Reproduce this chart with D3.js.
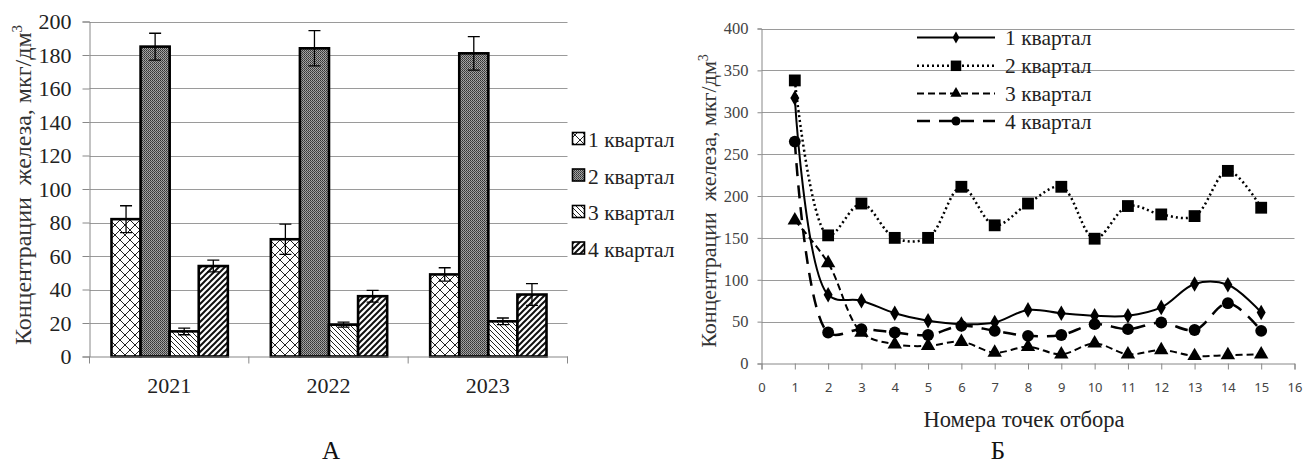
<!DOCTYPE html>
<html><head><meta charset="utf-8">
<script src="https://cdn.jsdelivr.net/npm/d3@7"></script>
<style>body{margin:0;background:#fff}svg{display:block}</style>
</head><body>
<svg id="c" width="1305" height="466"></svg>
<script>
// ---------- Data: chart A ----------
const years = ["2021", "2022", "2023"];
const quarters = ["1 квартал", "2 квартал", "3 квартал", "4 квартал"];
const q1Values = [82, 70, 49];
const q2Values = [185, 184, 181];
const q3Values = [15, 19, 21];
const q4Values = [54, 36, 37];
const q1Errors = [8, 9, 4];
const q2Errors = [8, 10.5, 10];
const q3Errors = [2, 1.5, 2];
const q4Errors = [3.5, 3.5, 6.5];
const yTicksA = [0, 20, 40, 60, 80, 100, 120, 140, 160, 180, 200];

// ---------- Data: chart Б ----------
const points = [1,2,3,4,5,6,7,8,9,10,11,12,13,14,15];
const s1 = [317, 82, 75, 60, 51, 47, 49, 64, 60, 57, 57, 67, 95, 94, 61];
const s2 = [338, 153, 191, 150, 150, 211, 165, 191, 211, 149, 188, 178, 176, 230, 186];
const s3 = [171, 120, 37, 23, 21, 26, 13, 20, 11, 24, 11, 16, 9, 10, 11];
const s4 = [265, 37, 41, 37, 34, 45, 39, 33, 34, 47, 41, 49, 40, 72, 39];
const xTicksB = d3.range(0, 17);
const yTicksB = [0, 50, 100, 150, 200, 250, 300, 350, 400];

const svg = d3.select("#c");
const serif = "Liberation Serif, DejaVu Serif, serif";
const sans = "Noto Sans, Liberation Sans, sans-serif";

// ---------- Patterns ----------
const defs = svg.append("defs");
function pat(id, size, draw) {
  const p = defs.append("pattern").attr("id", id).attr("patternUnits", "userSpaceOnUse")
    .attr("width", size).attr("height", size);
  p.append("rect").attr("width", size).attr("height", size).attr("fill", "#fff");
  draw(p);
}
pat("pCross", 10, p => {
  p.append("path").attr("d", "M0,0L10,10M10,0L0,10M-1,9L1,11M9,-1L11,1M9,11L11,9M-1,1L1,-1")
    .attr("stroke", "#222").attr("stroke-width", 1).attr("fill", "none");
});
pat("pDots", 2, p => {
  p.append("rect").attr("width", 1).attr("height", 1).attr("fill", "#333");
  p.append("rect").attr("x", 1).attr("y", 1).attr("width", 1).attr("height", 1).attr("fill", "#4a4a4a");
  p.append("rect").attr("x", 1).attr("y", 0).attr("width", 1).attr("height", 1).attr("fill", "#aaa");
  p.append("rect").attr("x", 0).attr("y", 1).attr("width", 1).attr("height", 1).attr("fill", "#999");
});
pat("pBack", 5, p => {
  p.append("path").attr("d", "M0,0L5,5M-1,4L1,6M4,-1L6,1")
    .attr("stroke", "#222").attr("stroke-width", 1).attr("fill", "none");
});
pat("pFwd", 6, p => {
  p.append("path").attr("d", "M0,6L6,0M-1,1L1,-1M5,7L7,5")
    .attr("stroke", "#111").attr("stroke-width", 2).attr("fill", "none");
});
const fills = ["url(#pCross)", "url(#pDots)", "url(#pBack)", "url(#pFwd)"];

// ---------- Chart A ----------
const seriesA = [q1Values, q2Values, q3Values, q4Values];
const errA = [q1Errors, q2Errors, q3Errors, q4Errors];
const xA0 = d3.scaleBand().domain(years).range([89.5, 567.5]).padding(0);
const xA1 = d3.scaleBand().domain(quarters).range([22, xA0.bandwidth() - 21]).padding(0);
const yA = d3.scaleLinear().domain([0, 200]).range([356.5, 21.5]);

const gA = svg.append("g");
gA.selectAll("line.grid").data(yTicksA.filter(d => d > 0)).join("line")
  .attr("x1", 89.5).attr("x2", 567.5)
  .attr("y1", d => Math.round(yA(d)) + 0.5).attr("y2", d => Math.round(yA(d)) + 0.5)
  .attr("stroke", "#9a9a9a").attr("stroke-width", 1);
const axA = gA.append("g").attr("transform", "translate(89.5,0)")
  .call(d3.axisLeft(yA).tickValues(yTicksA).tickSize(7).tickPadding(11));
axA.select(".domain").attr("stroke", "#888");
axA.selectAll(".tick line").attr("stroke", "#888");
axA.selectAll("text").style("font-family", serif).attr("font-size", 22).attr("fill", "#222");
years.forEach((yr, i) => {
  quarters.forEach((q, j) => {
    const v = seriesA[j][i];
    const x = xA0(yr) + xA1(q);
    gA.append("rect").attr("x", x).attr("y", yA(v)).attr("width", xA1.bandwidth())
      .attr("height", yA(0) - yA(v)).attr("fill", fills[j]).attr("stroke", "#000").attr("stroke-width", 2.6);
    const e = errA[j][i];
    const cx = x + xA1.bandwidth() / 2;
    gA.append("path")
      .attr("d", `M${cx},${yA(v + e)}V${yA(v - e)}M${cx - 6},${yA(v + e)}H${cx + 6}M${cx - 6},${yA(v - e)}H${cx + 6}`)
      .attr("stroke", "#000").attr("stroke-width", 1.3).attr("fill", "none");
  });
});
const axAx = gA.append("g").attr("transform", `translate(0,${yA(0)})`)
  .call(d3.axisBottom(xA0).tickSize(0).tickPadding(21));
axAx.select(".domain").attr("stroke", "#888").attr("stroke-width", 1.2);
axAx.selectAll("text").style("font-family", serif).attr("font-size", 22).attr("fill", "#222");
gA.selectAll("line.sep").data([...years.map(y => xA0(y)), 567.5]).join("line")
  .attr("x1", d => d).attr("x2", d => d).attr("y1", yA(0)).attr("y2", yA(0) + 7)
  .attr("stroke", "#888");
gA.append("text").attr("transform", `translate(31,185) rotate(-90)`)
  .attr("text-anchor", "middle").style("font-family", serif).attr("font-size", 24).attr("fill", "#333")
  .attr("xml:space", "preserve")
  .text("Концентрации  железа, мкг/дм").append("tspan").attr("dy", -9).attr("font-size", 15).text("3");
quarters.forEach((q, j) => {
  const base = [147, 183.5, 220, 256.5][j];
  gA.append("rect").attr("x", 572.5).attr("y", base - 14.5).attr("width", 12).attr("height", 12)
    .attr("fill", fills[j]).attr("stroke", "#000").attr("stroke-width", 1.6);
  gA.append("text").attr("x", 588).attr("y", base).style("font-family", serif).attr("font-size", 21.5)
    .attr("fill", "#222").text(q);
});
svg.append("text").attr("x", 331).attr("y", 459).attr("text-anchor", "middle")
  .style("font-family", serif).attr("font-size", 25).attr("fill", "#111").text("А");

// ---------- Chart Б ----------
const xB = d3.scaleLinear().domain([0, 16]).range([761.5, 1294.5]);
const yB = d3.scaleLinear().domain([0, 400]).range([363.5, 28.5]);
const gB = svg.append("g");
gB.selectAll("line.grid").data(yTicksB.filter(d => d > 0)).join("line")
  .attr("x1", 761.5).attr("x2", 1294.5)
  .attr("y1", d => Math.round(yB(d)) + 0.5).attr("y2", d => Math.round(yB(d)) + 0.5)
  .attr("stroke", "#9a9a9a").attr("stroke-width", 1);
const axB = gB.append("g").attr("transform", "translate(761.5,0)")
  .call(d3.axisLeft(yB).tickValues(yTicksB).tickSize(4).tickPadding(9));
axB.select(".domain").attr("stroke", "#888");
axB.selectAll(".tick line").attr("stroke", "#888");
axB.selectAll("text").style("font-family", serif).attr("font-size", 16.5).attr("fill", "#444");
const axBx = gB.append("g").attr("transform", `translate(0,${yB(0)})`)
  .call(d3.axisBottom(xB).tickValues(xTicksB).tickSize(6).tickPadding(13));
axBx.select(".domain").attr("stroke", "#888");
axBx.selectAll(".tick line").attr("stroke", "#888");
axBx.selectAll("text").style("font-family", sans).attr("font-size", 13).attr("fill", "#444");

const seriesB = [s1, s2, s3, s4];
const dashes = [null, "2,3", "7,4", "13,9"];
const widths = [2, 2.5, 2, 2.5];
const curve = d3.curveCatmullRom.alpha(0.5);
const line = d3.line().x((d, i) => xB(points[i])).y(d => yB(d)).curve(curve);
seriesB.forEach((s, k) => {
  gB.append("path").datum(s).attr("d", line).attr("fill", "none").attr("stroke", "#000")
    .attr("stroke-width", widths[k]).attr("stroke-dasharray", dashes[k]);
});
const symTypes = [d3.symbolDiamond, d3.symbolSquare, d3.symbolTriangle, d3.symbolCircle];
const symSizes = [70, 140, 90, 110];
seriesB.forEach((s, k) => {
  gB.selectAll(null).data(s).join("path")
    .attr("transform", (d, i) => `translate(${xB(points[i])},${yB(d)})`)
    .attr("d", d3.symbol().type(symTypes[k]).size(symSizes[k])).attr("fill", "#000");
});
quarters.forEach((q, k) => {
  const base = [45, 73.3, 101, 128.5][k];
  const ly = base - 7.5;
  gB.append("line").attr("x1", 917).attr("x2", 995).attr("y1", ly).attr("y2", ly)
    .attr("stroke", "#000").attr("stroke-width", widths[k]).attr("stroke-dasharray", dashes[k]);
  gB.append("path").attr("transform", `translate(956,${ly})`)
    .attr("d", d3.symbol().type(symTypes[k]).size([40, 110, 55, 65][k])).attr("fill", "#000");
  gB.append("text").attr("x", 1005).attr("y", base).style("font-family", serif).attr("font-size", 21.5)
    .attr("fill", "#222").text(q);
});
gB.append("text").attr("transform", `translate(716,201) rotate(-90)`)
  .attr("text-anchor", "middle").style("font-family", serif).attr("font-size", 22).attr("fill", "#333")
  .attr("xml:space", "preserve")
  .text("Концентрации  железа, мкг/дм").append("tspan").attr("dy", -8).attr("font-size", 14).text("3");
gB.append("text").attr("x", 1024).attr("y", 427).attr("text-anchor", "middle")
  .style("font-family", serif).attr("font-size", 22.5).attr("fill", "#222").text("Номера точек отбора");
svg.append("text").attr("x", 998).attr("y", 459).attr("text-anchor", "middle")
  .style("font-family", serif).attr("font-size", 25).attr("fill", "#111").text("Б");
</script>
</body></html>
